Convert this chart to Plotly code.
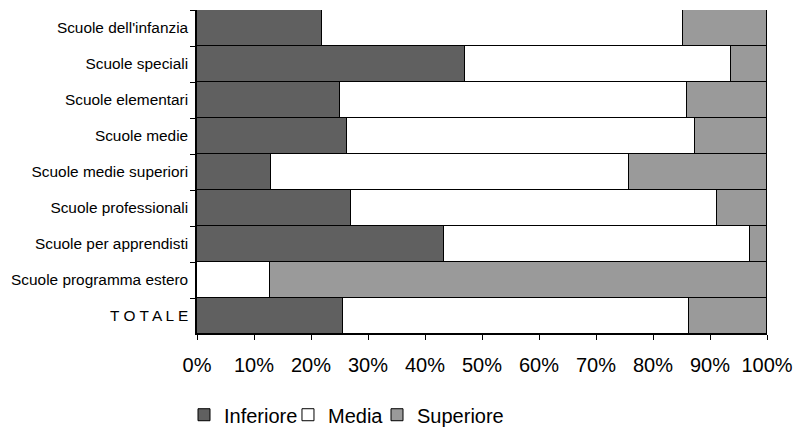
import plotly.graph_objects as go

categories = [
    "Scuole dell'infanzia",
    "Scuole speciali",
    "Scuole elementari",
    "Scuole medie",
    "Scuole medie superiori",
    "Scuole professionali",
    "Scuole per apprendisti",
    "Scuole programma estero",
    "T O T A L E",
]
inferiore = [22.0, 47.0, 25.0, 26.4, 12.9, 27.0, 43.4, 0.0, 25.7]
media = [63.3, 46.6, 61.0, 61.0, 62.9, 64.3, 53.6, 12.8, 60.7]
superiore = [14.7, 6.4, 14.0, 12.6, 24.2, 8.7, 3.0, 87.2, 13.6]
tick_vals = [0, 10, 20, 30, 40, 50, 60, 70, 80, 90, 100]
tick_text = [f"{v}%" for v in tick_vals]

series = [
    ("Inferiore", inferiore, "#606060", "legend", -0.0228),
    ("Media", media, "#ffffff", "legend2", 0.1596),
    ("Superiore", superiore, "#9a9a9a", "legend3", 0.3158),
]

fig = go.Figure()
legends = {}
for name, vals, col, lg, lx in series:
    fig.add_trace(go.Bar(
        name=name, y=categories, x=vals, orientation="h",
        marker=dict(color=col, line=dict(color="#000000", width=1)),
        hoverinfo="x+y", legend=lg,
    ))
    legends[lg] = dict(
        orientation="h", x=lx, xanchor="left", y=0.031, yref="container",
        yanchor="middle", font=dict(size=20), itemwidth=30,
        bgcolor="rgba(0,0,0,0)",
    )

fig.update_layout(
    width=798, height=428,
    barmode="stack", bargap=0,
    paper_bgcolor="white", plot_bgcolor="white",
    margin=dict(l=197, r=31, t=10, b=94, autoexpand=False),
    font=dict(family="Liberation Sans, Arial, sans-serif", color="#000000"),
    showlegend=True,
    xaxis=dict(
        range=[0, 100], tickvals=tick_vals, ticktext=tick_text,
        showgrid=False, zeroline=False, automargin=False,
        showline=True, linecolor="#000000", linewidth=1,
        ticks="outside", ticklen=5, tickcolor="#000000",
        tickfont=dict(size=20), ticklabelstandoff=8, fixedrange=True,
    ),
    yaxis=dict(
        autorange="reversed", showgrid=False, zeroline=False, automargin=False,
        showline=True, linecolor="#000000", linewidth=1.5,
        ticks="outside", ticklen=5, tickcolor="#000000", tickson="boundaries",
        tickfont=dict(size=15.4), ticklabelstandoff=4, fixedrange=True,
    ),
)
fig.update_layout(**legends)

fig.write_html(
    "out.html",
    config={"displayModeBar": False},
    post_script="document.body.style.margin='0';",
)
